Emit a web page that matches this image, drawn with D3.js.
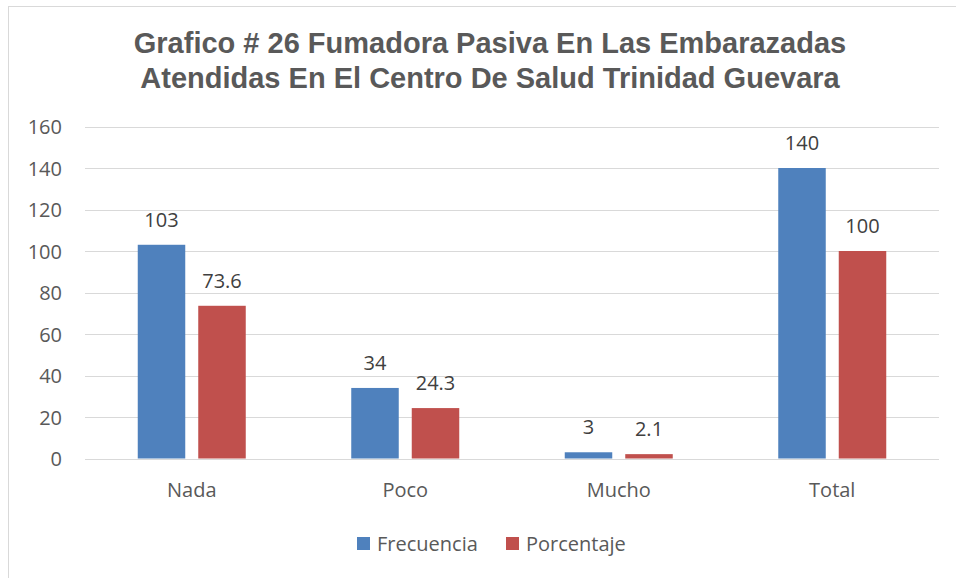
<!DOCTYPE html>
<html><head><meta charset="utf-8">
<script src="https://cdn.jsdelivr.net/npm/d3@7"></script>
<style>body{margin:0;background:#fff}</style>
</head><body>
<script>
const categories = ["Nada", "Poco", "Mucho", "Total"];
const seriesNames = ["Frecuencia", "Porcentaje"];
const frecuencia = [103, 34, 3, 140];
const porcentaje = [73.6, 24.3, 2.1, 100];
const porcentajeLabels = ["73.6", "24.3", "2.1", "100"];
const yTicks = [0, 20, 40, 60, 80, 100, 120, 140, 160];
const titleLines = ["Grafico # 26 Fumadora Pasiva En Las Embarazadas", "Atendidas En El Centro De Salud Trinidad Guevara"];
const colors = ["#4F81BD", "#C0504D"];

(function () {
const W = 956, H = 578;
const FONT = "Open Sans, sans-serif", FS = 20;
const svg = d3.select("body").append("svg").attr("width", W).attr("height", H);
svg.append("rect").attr("x", 8.5).attr("y", 6.5).attr("width", W + 10).attr("height", H + 10)
  .attr("fill", "#fff").attr("stroke", "#d9d9d9").attr("stroke-width", 1);

const pLeft = 85, pRight = 939, pTop = 126.5, pBottom = 458.5;
const x = d3.scaleBand().domain(categories).range([pLeft, pRight]);
const y = d3.scaleLinear().domain([0, 160]).range([pBottom, pTop]);
const barW = 47.5, gap = 13;
const x1 = d3.scaleOrdinal().domain(seriesNames).range([-(gap / 2 + barW), gap / 2]);

svg.append("g").selectAll("line").data(yTicks).join("line")
  .attr("x1", pLeft).attr("x2", pRight)
  .attr("y1", d => Math.round(y(d)) + 0.5).attr("y2", d => Math.round(y(d)) + 0.5)
  .attr("stroke", "#d9d9d9").attr("stroke-width", 1.2);

const yAxis = d3.axisLeft(y).tickValues(yTicks).tickSize(0).tickPadding(0);
const ga = svg.append("g").attr("transform", `translate(62,0)`).call(yAxis);
ga.select(".domain").remove();
ga.selectAll("text").attr("font-family", FONT).attr("font-size", FS)
  .attr("fill", "#595959").attr("dy", "0.35em");

const xAxis = d3.axisBottom(x).tickSize(0).tickPadding(0);
const gx = svg.append("g").attr("transform", `translate(0,${pBottom})`).call(xAxis);
gx.select(".domain").remove();
gx.selectAll("text").attr("font-family", FONT).attr("font-size", FS)
  .attr("fill", "#595959").attr("dy", null).attr("y", 38.5);

const data = [frecuencia, porcentaje];
const labels = [frecuencia.map(String), porcentajeLabels];
seriesNames.forEach((s, si) => {
  const g = svg.append("g");
  g.selectAll("rect").data(categories).join("rect")
    .attr("x", c => x(c) + x.bandwidth() / 2 + x1(s))
    .attr("y", (c, i) => y(data[si][i]))
    .attr("width", barW)
    .attr("height", (c, i) => y(0) - y(data[si][i]))
    .attr("fill", colors[si]);
  g.selectAll("text").data(categories).join("text")
    .attr("x", c => x(c) + x.bandwidth() / 2 + x1(s) + barW / 2)
    .attr("y", (c, i) => y(data[si][i]) - 18)
    .attr("text-anchor", "middle")
    .attr("font-family", FONT).attr("font-size", FS)
    .attr("fill", "#404040")
    .text((c, i) => labels[si][i]);
});

svg.append("g").selectAll("text").data(titleLines).join("text")
  .attr("x", 490).attr("y", (d, i) => 53 + i * 35)
  .attr("text-anchor", "middle")
  .attr("font-family", "Liberation Sans, Arial, sans-serif").attr("font-weight", "bold")
  .attr("font-size", 29).attr("fill", "#595959")
  .text(d => d);

const legX = [357, 506];
const leg = svg.append("g");
seriesNames.forEach((s, i) => {
  leg.append("rect").attr("x", legX[i]).attr("y", 537).attr("width", 13).attr("height", 13).attr("fill", colors[i]);
  leg.append("text").attr("x", legX[i] + 20).attr("y", 551)
    .attr("font-family", FONT).attr("font-size", FS).attr("fill", "#595959").text(s);
});
})();
</script>
</body></html>
